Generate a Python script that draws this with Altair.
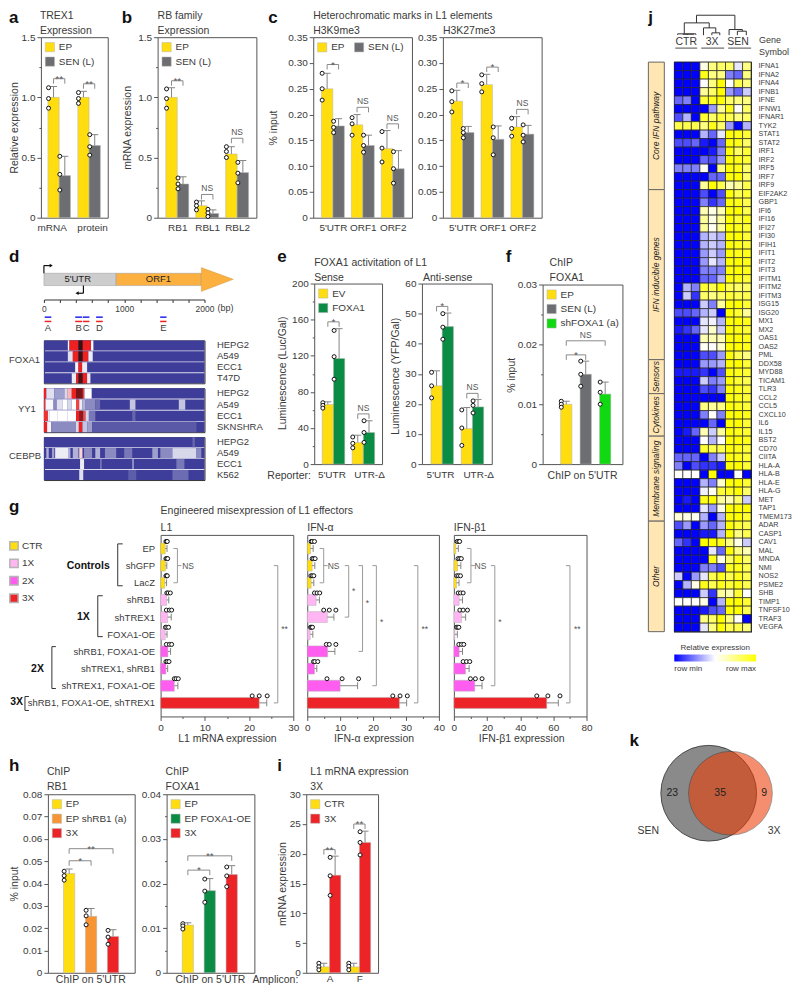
import json
import numpy as np
import pandas as pd
import altair as alt

FONT = "Liberation Sans"
INK = "#3a3a3a"
FRAME = "#555555"
YEL, GRY, GRN, LIME, ORG, RED, PK1, PK2 = "#FFDD0F", "#6D6E71", "#0B8C45", "#11D911", "#F79433", "#EC2427", "#FFB6F2", "#FF5CF0"

# ---------- bar values ----------
a_cats = ["mRNA", "protein"]
a_cat_pos = [-0.25, 1.1]
a_mean = [1.0, 0.35, 1.0, 0.6]
a_err = [0.09, 0.16, 0.05, 0.09]
a_pts = [[1.08, 0.99, 0.91], [0.51, 0.36, 0.23], [1.04, 0.99, 0.95], [0.69, 0.59, 0.52]]
a_sig = [(0, 1, 1.155, "**"), (2, 3, 1.113, "**")]

b_cats = ["RB1", "RBL1", "RBL2"]
b_mean = [1.0, 0.28, 0.1, 0.035, 0.53, 0.375]
b_err = [0.08, 0.06, 0.04, 0.03, 0.06, 0.1]
b_pts = [[1.07, 0.99, 0.91], [0.33, 0.28, 0.24], [0.13, 0.1, 0.065], [0.07, 0.04, 0.01], [0.59, 0.55, 0.5], [0.46, 0.37, 0.29]]
b_sig = [(0, 1, 1.138, "**"), (2, 3, 0.193, "NS"), (4, 5, 0.66, "NS")]

c_cats = ["5'UTR", "ORF1", "ORF2"]
c1_mean = [0.25, 0.178, 0.18, 0.14, 0.134, 0.095]
c1_err = [0.03, 0.014, 0.02, 0.02, 0.035, 0.035]
c1_pts = [[0.28, 0.25, 0.228], [0.187, 0.175, 0.165], [0.194, 0.182, 0.16], [0.16, 0.14, 0.127], [0.167, 0.135, 0.108], [0.128, 0.095, 0.067]]
c1_sig = [(0, 1, 0.297, "*"), (2, 3, 0.214, "NS"), (4, 5, 0.182, "NS")]
c2_mean = [0.226, 0.165, 0.258, 0.152, 0.176, 0.162]
c2_err = [0.021, 0.012, 0.02, 0.026, 0.02, 0.017]
c2_pts = [[0.246, 0.225, 0.205], [0.173, 0.165, 0.155], [0.277, 0.26, 0.244], [0.176, 0.155, 0.122], [0.193, 0.173, 0.158], [0.18, 0.16, 0.147]]
c2_sig = [(0, 1, 0.261, "*"), (2, 3, 0.292, "*"), (4, 5, 0.21, "NS")]

e_cats = ["5'UTR", "UTR-\u0394"]
e_cat_pos = [-0.07, 1.19]
e1_mean = [66, 117, 24, 35]
e1_err = [3, 33, 8, 13]
e1_pts = [[68, 65, 62], [148, 119, 94], [30, 23, 18], [48, 35, 24]]
e1_sig = [(0, 1, 157.6, "*"), (2, 3, 55.6, "NS")]
e2_mean = [26, 45.7, 11.8, 19]
e2_err = [5, 4.5, 7, 2.5]
e2_pts = [[30.5, 26, 22], [50, 45.5, 41.5], [18, 12, 6.2], [21, 19.5, 17]]
e2_sig = [(0, 1, 52.4, "*"), (2, 3, 23.5, "NS")]

f_mean = [0.01, 0.015, 0.0117]
f_err = [0.0005, 0.0022, 0.002]
f_pts = [[0.0105, 0.01, 0.0095], [0.0172, 0.015, 0.013], [0.0137, 0.012, 0.01]]
f_sig = [(0, 1, 0.01825, "*"), (0, 2, 0.0206, "NS")]

h1_mean = [0.0445, 0.0253, 0.0163]
h1_err = [0.002, 0.0035, 0.003]
h1_pts = [[0.0455, 0.0435, 0.0415], [0.028, 0.0255, 0.0215], [0.019, 0.016, 0.0128]]
h1_sig = [(0, 1, 0.0502, "*"), (0, 2, 0.0556, "**")]
h2_mean = [0.0107, 0.0184, 0.022]
h2_err = [0.0005, 0.0027, 0.002]
h2_pts = [[0.011, 0.0105, 0.0098], [0.021, 0.0183, 0.0158], [0.0237, 0.0217, 0.0193]]
h2_sig = [(0, 1, 0.023, "*"), (0, 2, 0.0262, "**")]

i_cats = ["A", "F"]
i_mean = [1, 16.4, 1, 21.9]
i_err = [0.6, 3.2, 0.6, 1.9]
i_pts = [[1.6, 1, 0.5], [19.4, 16.3, 13], [1.6, 1.1, 0.5], [23.7, 21.9, 19.8]]
i_sig = [(0, 1, 20.7, "**"), (2, 3, 25, "**")]

# ---------- panel g ----------
g_rows = ["EP", "shGFP", "LacZ", "shRB1", "shTREX1", "FOXA1-OE", "shRB1, FOXA1-OE", "shTREX1, shRB1", "shTREX1, FOXA1-OE", "shRB1, FOXA1-OE, shTREX1"]
g_groups = ["CTR", "CTR", "CTR", "1X", "1X", "1X", "2X", "2X", "2X", "3X"]
gl_mean = [1.05, 1.1, 0.95, 1.35, 1.6, 1.05, 1.65, 1.2, 3.1, 22.3]
gl_err = [0.4, 0.3, 0.4, 0.5, 0.8, 0.4, 0.6, 0.4, 0.8, 1.7]
gl_pts = [[1.2, 1.4, 1.5], [1.2, 1.4, 1.6], [1.2, 1.4, 1.5], [1.4, 1.7, 2.2], [1.3, 2.0, 2.5], [1.1, 1.4, 1.8], [1.3, 2.0, 2.5], [1.2, 1.5, 1.9], [3.1, 3.5, 4.0], [20.7, 22.3, 24.1]]
ga_mean = [1, 1.5, 1.2, 2.7, 6.1, 0.9, 6.2, 2.2, 10, 28]
ga_err = [0.8, 0.8, 0.8, 1, 2, 0.8, 2.2, 0.7, 5.3, 2.2]
ga_pts = [[1.2, 1.5, 2.2], [1.5, 1.9, 2.4], [1.1, 1.5, 2.0], [2.2, 3.0, 3.8], [5, 6.7, 8.7], [1.0, 1.3, 1.6], [5.8, 6.7, 8.7], [1.9, 2.3, 3.2], [6, 10.6, 15.6], [26, 28.2, 30.4]]
gb_mean = [1.2, 2.2, 1.6, 3.2, 4.6, 0.6, 3.2, 7, 12.6, 56]
gb_err = [1.5, 2, 1.5, 2, 2.5, 1.5, 2, 2.2, 4.4, 7]
gb_pts = [[2, 3, 3.5], [2.5, 3.5, 4.5], [1.8, 2.8, 4], [2.6, 4, 5.6], [3.6, 5.6, 8.2], [1.6, 2.4, 3], [3, 4.6, 6], [5.6, 7.6, 9.6], [10, 13, 17], [50, 56.7, 64]]
gl_sig = [(3.8, 0, 2, "NS", 6.2, 1, True), (26.5, 1, 9, "**", 28, 4.7, False)]
ga_sig = [(5, 0, 2, "NS", 8, 1, True), (12.6, 1, 4, "*", 14.1, 2.5, False), (16.8, 1, 6, "*", 18.3, 3.2, False), (21, 1, 8, "*", 22.6, 4.3, False), (33.6, 1, 9, "**", 35.7, 4.7, False)]
gb_sig = [(10.3, 0, 2, "NS", 16, 1, True), (24.7, 1, 8, "*", 27.8, 4.3, False), (70, 1, 9, "**", 74.4, 4.7, False)]

# ---------- panel d ----------
d_blocks = {
    "FOXA1": {
        "HEPG2": [(298, 318, .5), (318, 430, .76), (430, 484, 1), (484, 587, .76), (587, 616, .5)],
        "A549": [(298, 360, .42), (360, 430, .76), (430, 484, 1), (484, 554, .76), (554, 608, .45)],
        "ECC1": [(389, 430, .48), (430, 476, .76), (476, 538, .45)],
        "T47D": [(347, 401, .45), (401, 430, .76), (430, 484, .98), (484, 538, .76), (538, 579, .45)],
    },
    "YY1": {
        "HEPG2": [(0, 30, .76), (30, 130, .42), (130, 255, .25), (255, 290, .4), (290, 347, .58), (347, 400, .76), (400, 484, .92), (484, 505, .72), (505, 595, .5)],
        "A549": [(0, 20, .74), (20, 120, .48), (120, 160, .2), (160, 230, .42), (230, 290, .5), (290, 345, .4), (345, 400, .5), (400, 440, .72), (440, 480, .45), (480, 520, .3), (520, 640, .2), (640, 700, .12), (1070, 1140, .35), (1680, 1760, .35)],
        "ECC1": [(0, 50, .74), (50, 75, .45), (75, 165, .5), (165, 290, .5), (290, 400, .5), (400, 440, .76), (440, 490, .88), (490, 520, .7), (520, 560, .4), (560, 640, .15), (1100, 1140, .1)],
        "SKNSHRA": [(0, 40, .76), (40, 90, .48), (90, 400, .2), (400, 435, .4), (435, 480, .76), (480, 540, .35), (540, 600, .25), (600, 1900, .07)],
    },
    "CEBPB": {
        "HEPG2": [(1850, 1880, .1)],
        "A549": [(30, 60, .3), (100, 130, .25), (140, 300, .45), (300, 330, .3), (360, 430, .3), (440, 480, .55), (500, 600, .2), (640, 700, .3), (760, 900, .2), (1000, 1100, .15), (1350, 1420, .25), (1450, 1600, .2), (1600, 1900, .4), (1900, 1960, .2)],
        "ECC1": [(450, 500, .45), (700, 720, .15), (1100, 1120, .25), (1650, 1750, .15)],
        "K562": [(440, 490, .42), (1050, 1150, .08), (1600, 1800, .12)],
    },
}
d_markers = [("A", 10, 92), ("B", 390, 476), ("C", 485, 567), ("D", 650, 733), ("E", 1448, 1527)]

# ---------- panel j ----------
genes = """IFNA1 IFNA2 IFNA4 IFNB1 IFNE IFNW1 IFNAR1 TYK2 STAT1 STAT2 IRF1 IRF2 IRF5 IRF7 IRF9 EIF2AK2 GBP1 IFI6 IFI16 IFI27 IFI30 IFIH1 IFIT1 IFIT2 IFIT3 IFITM1 IFITM2 IFITM3 ISG15 ISG20 MX1 MX2 OAS1 OAS2 PML DDX58 MYD88 TICAM1 TLR3 CCL2 CCL5 CXCL10 IL6 IL15 BST2 CD70 CIITA HLA-A HLA-B HLA-E HLA-G MET TAP1 TMEM173 ADAR CASP1 CAV1 MAL MNDA NMI NOS2 PSME2 SHB TIMP1 TNFSF10 TRAF3 VEGFA""".split()
heat = [
    [-1, -1, -1, .1, .5, .6, .6, -.1, .5], [-1, -1, -1, .9, .5, .5, -.5, -.6, .5], [-1, -1, -1, 0, .5, 1, 0, .7, .5],
    [-1, -1, -1, .4, .6, 1, -.4, -.6, -.2], [-.6, -.5, -1, .8, .9, 1, .6, .5, .5], [-1, -1, -1, -1, -.4, .4, .9, 0, .6],
    [-.7, -.3, -1, .8, .6, .8, .7, .5, .6], [.7, .7, .7, .5, .9, .6, -.4, -1, -.3], [-1, -1, -1, -.3, -.6, -.1, 1, .9, .8],
    [-.7, -.7, -.6, -.9, -1, -.6, 1, .9, .6], [-1, -1, -1, -1, -.9, -.5, 1, .6, .8], [-1, -1, -1, -.6, -.7, -.4, 1, .9, .8],
    [-.5, -.5, -.5, .05, -1, .5, 1, .9, .6], [-1, -1, -1, -1, -.6, -.6, 1, 1, .6], [-1, -1, -1, .4, 1, .7, .3, .4, .7],
    [-1, -1, -1, -.7, -1, -.7, 1, .7, .8], [-1, -1, -1, -.5, -.8, -.6, 1, .9, .7], [-1, -1, -1, .3, .1, .3, 1, 1, .7],
    [-1, -1, -1, .4, .1, .4, 1, .8, .9], [-1, -1, -1, .4, .05, .4, 1, .9, .8], [-1, -1, -1, -.3, -.2, -.3, 1, 1, .8],
    [-1, -1, -1, -.3, -.2, -.3, 1, .9, .8], [-1, -1, -1, -.4, -.2, -.4, 1, .9, .9], [-1, -1, -1, -.4, -.1, -.3, 1, 1, .9],
    [-1, -1, -1, -.5, -.5, -.5, 1, 1, .9], [-1, -1, -1, -.6, -.6, -.3, 1, .9, .8], [-1, -.3, -.5, .8, .7, 1, .7, .6, .6],
    [-1, -.2, -.8, .6, .5, .6, .8, .7, .7], [-1, -1, -1, -.2, -.5, .4, 1, 1, .8], [-.7, -.7, -.6, -.3, -.2, -1, 1, .8, .4],
    [-1, -1, -1, -.1, -.05, -.3, 1, 1, .9], [-.9, -.8, -.6, -.1, .2, -.2, 1, .9, .8], [-1, -1, -1, .3, .3, .3, 1, 1, .9],
    [-1, -1, -1, .05, -.02, .2, 1, 1, .9], [-1, -1, -1, -.7, -.7, -.4, 1, .7, .5], [-1, -1, -1, -.4, -.4, -.3, 1, 1, .8],
    [-.9, -.9, -.9, -.8, -1, -.7, 1, .9, .8], [-1, -1, -1, -.2, -.5, -.4, 1, .8, .7], [-1, -1, -1, -.7, -.8, -.5, 1, .9, .8],
    [-1, -1, -1, -1, -1, -1, 1, .9, .8], [-1, -1, -1, .5, .4, .5, 1, .9, .8], [-1, -1, -1, -.5, 0, -.5, 1, 1, .9],
    [-1, -1, -1, -1, -.6, -1, 1, 1, .8], [-1, -.9, -.6, .3, -.2, .4, 1, .9, .8], [-1, -1, -1, 0, -.3, -.02, 1, 1, .9],
    [-1, -1, -1, .8, .7, .7, 1, .9, .8], [-.6, -.6, -.6, -1, -.5, -.2, 1, .9, .8], [-.5, -1, -.7, -.8, -.8, -.9, 1, 1, .8],
    [0, 0, 0, -1, 1, -1, -1, 0, -1], [-1, -1, -1, -.3, -.5, .2, 1, 1, .8], [-1, -1, -1, -.05, .05, .8, .9, 1, .6],
    [-1, -.9, -1, .9, 1, .4, .3, .6, -.2], [-1, -1, -1, -.1, -.4, .1, 1, 1, 1], [.15, .1, .05, -.3, -1, -.3, 1, 1, .8],
    [-.7, -.4, -1, -.4, -.6, -.3, 1, .8, .7], [-1, -1, -1, -.9, -.9, -.3, 1, .5, .7], [-.6, -.8, -1, 1, 1, .9, .5, .1, -.2],
    [-1, -1, -1, -1, -.1, -.6, 1, .5, .3], [-1, -1, -1, -1, .9, .1, .6, .9, .6], [-1, -1, -1, -.5, -.5, -.7, .9, .9, .7],
    [-.2, -1, -.4, -.1, .7, .9, .7, .9, .7], [-1, -.3, .1, .9, .7, .9, .8, .9, .7], [-1, -1, -1, -.2, -.8, .4, .3, .8, 0],
    [0, 0, 0, .1, -1, -.3, 1, 1, .8], [-1, -1, -1, -.9, -.7, -.6, 1, 1, .7], [-1, -1, -1, .5, .6, 1, .5, 0, -1],
    [-1, -1, -1, -.1, .5, 1, .7, .7, .5],
]
strip_labels = ["Core IFN pathway", "IFN inducible genes", "Sensors", "Cytokines", "Membrane signaling", "Other"]
strip_starts = [0, 15, 35, 39, 44, 54]
strip_ends = [15, 35, 39, 44, 54, 67]
dendro = [(2.6, 60, 7.1, 60), (2.6, 60, 2.6, 37), (1.17, 37, 4.09, 37), (1.17, 37, 1.17, 4), (.39, 4, 2.53, 4), (.39, 4, .39, 1),
          (1.5, 4, 1.5, 1), (2.53, 4, 2.53, 1), (1, 3, 2.3, 3), (4.09, 37, 4.09, 22), (3.42, 22, 4.86, 22), (3.42, 22, 3.42, 0), (4.86, 22, 4.86, 7),
          (4.4, 7, 5.33, 7), (4.4, 7, 4.4, 0), (5.33, 7, 5.33, 0), (7.1, 60, 7.1, 17), (6.42, 17, 7.98, 17), (6.42, 17, 6.42, 0),
          (7.98, 17, 7.98, 12), (7.39, 12, 8.44, 12), (7.39, 12, 7.39, 0), (8.44, 12, 8.44, 0)]

# ---------- free text: (text, page x, page y) ----------
letters = [("a", 8, 17), ("b", 121, 17), ("c", 268, 17), ("j", 649, 17), ("d", 8, 256), ("e", 277, 256), ("f", 506, 256),
           ("g", 8, 507), ("h", 8, 767), ("i", 277, 767), ("k", 630, 742)]
titles = [("TREX1", 39, 15), ("Expression", 39, 30), ("RB family", 157, 15), ("Expression", 157, 30),
          ("Heterochromatic marks in L1 elements", 313, 15), ("H3K9me3", 313, 30), ("H3K27me3", 443, 30),
          ("FOXA1 activitation of L1", 314, 262), ("Sense", 314, 277), ("Anti-sense", 423, 277), ("ChIP", 550, 262), ("FOXA1", 550, 277),
          ("Engineered misexpression of L1 effectors", 160, 511), ("L1", 160, 528), ("IFN-\u03b1", 307, 528), ("IFN-\u03b21", 454, 528),
          ("ChIP", 46, 773), ("RB1", 46, 788), ("ChIP", 165, 773), ("FOXA1", 165, 788), ("L1 mRNA expression", 310, 773), ("3X", 310, 788),
          ("Reporter:", 267, 476), ("Amplicon:", 252, 981)]
centered = [("ChIP on 5'UTR", 583, 476), ("L1 mRNA expression", 227, 740), ("IFN-\u03b1 expression", 374, 740), ("IFN-\u03b21 expression", 522, 740),
            ("ChIP on 5'UTR", 90, 981), ("ChIP on 5'UTR", 210, 981), ("SEN", 649, 832), ("3X", 775, 832),
            ("CTR", 687, 41), ("3X", 713, 41), ("SEN", 739, 41)]
rot_titles = [("Relative expression", 14, 127), ("mRNA expression", 127, 127), ("% input", 274, 127), ("Luminescence (Luc/Gal)", 283, 373),
              ("Luminescence (YFP/Gal)", 396, 376), ("% input", 512, 375), ("% input", 14, 885), ("mRNA expression", 283, 885)]
small_left = [("Gene", 760, 39), ("Symbol", 760, 51), ("(bp)", 217, 308)]
d_left = [("FOXA1", 8, 360), ("YY1", 17, 409), ("CEBPB", 8, 456)]
bold_right = [("Controls", 109, 566), ("1X", 89, 617), ("2X", 43, 669), ("3X", 22, 703)]
underlines = [(676, 698, 47), (702, 725, 47), (729, 752, 47)]
# group brackets of panel g: left x, tip x, top y, bottom y
g_brackets = [(117, 122, 544, 586), (97, 102, 596, 637), (51, 55, 647, 689), (24, 28, 697, 711)]

venn_x = [59.5, 81.3]
venn_y = [50, 50]
venn_r = [48, 42]
venn_fill = ["#8A8A8A", "#ED3A01"]
venn_alpha = [1, 0.57]
venn_counts = ["23", "35", "9"]
venn_count_x = [23, 71, 115]

# ---------- helpers ----------
panels = {}


def axis_y(ymax, major, minor, fmt):
    ticks = [round(float(v), 6) for v in np.arange(0, ymax + minor / 2, minor)]
    is_major = f"abs(datum.value/{major}-round(datum.value/{major}))<0.000001"
    return alt.Axis(values=ticks, title=None, grid=False, domain=False, labelOverlap=False, labelFlush=False,
                    labelExpr=f"{is_major} ? (datum.value==0 ? '0' : format(datum.value,'{fmt}')) : ''",
                    tickSize={"condition": {"test": is_major, "value": 4}, "value": 2},
                    tickColor=FRAME, labelFontSize=10, labelColor=INK, labelFont=FONT, labelPadding=2)


def vbars(name, x, y, w, h, ymax, major, minor, fmt, first, step, bar_w, groups, colors, mean, err, pts, sig,
          cats=None, cat_pos=None, single=False, legend=(4, 5), columns=1, label_pad=5):
    n = len(mean)
    if single:
        pos = list(range(n)); grp = groups
    else:
        pos = [i // 2 + (i % 2 - 0.5) * bar_w / step for i in range(n)]
        grp = [groups[i % 2] for i in range(n)]
    lo = -(first - x) / step
    xs = alt.Scale(domain=[lo, lo + w / step], nice=False, zero=False)
    ys = alt.Scale(domain=[0, ymax], nice=False, zero=False)
    hw = bar_w / step / 2
    bars = pd.DataFrame({"x": [p - hw for p in pos], "x2": [p + hw for p in pos], "y0": 0, "m": mean, "g": grp})
    vals = (cat_pos or list(range(len(cats)))) if cats else []
    xax = alt.Axis(values=vals, title=None, grid=False, domain=False, tickSize=0, labelAngle=0,
                   labelExpr=f"{json.dumps(cats)}[indexof({json.dumps(vals)},datum.value)]" if cats else "''", labelOverlap=False, labelFlush=False,
                   labelFontSize=10, labelColor=INK, labelFont=FONT, labelPadding=label_pad)
    yax = axis_y(ymax, major, minor, fmt)
    leg = None
    if legend:
        leg = alt.Legend(orient="none", legendX=legend[0], legendY=legend[1], title=None, symbolType="square", symbolSize=85, columns=columns,
                         columnPadding=8, rowPadding=2.5, labelFontSize=10, labelColor=INK, labelFont=FONT, labelOffset=4, symbolStrokeWidth=0.5)
    L = [alt.Chart(bars).mark_rect(stroke="#b5b5b5", strokeWidth=0.5).encode(
        x=alt.X("x:Q", scale=xs, axis=xax), x2="x2:Q",
        y=alt.Y("y0:Q", scale=ys, axis=yax), y2="m:Q",
        color=alt.Color("g:N", scale=alt.Scale(domain=groups, range=colors), legend=leg))]
    capw = 3.5 / step
    segs = []
    for p, m, e in zip(pos, mean, err):
        segs.append((p, p, m, m + e))
        segs.append((p - capw, p + capw, m + e, m + e))
    seg_df = pd.DataFrame(segs, columns=["x", "x2", "y", "y2"])
    L.append(alt.Chart(seg_df).mark_rule(color="#858585", strokeWidth=1).encode(
        x=alt.X("x:Q", scale=xs, axis=xax), x2="x2:Q", y=alt.Y("y:Q", scale=ys, axis=yax), y2="y2:Q"))
    pr = pd.DataFrame([(p, v) for p, vals_ in zip(pos, pts) for v in vals_], columns=["x", "v"])
    L.append(alt.Chart(pr).mark_point(filled=True, fill="white", stroke="#111111", strokeWidth=1, size=16, opacity=1, xOffset=-5).encode(
        x=alt.X("x:Q", scale=xs, axis=xax), y=alt.Y("v:Q", scale=ys, axis=yax)))
    drop = 5 * ymax / h
    br, labs = [], []
    for b1, b2, top, lab in sig:
        x1, x2 = pos[b1], pos[b2]
        br += [(x1, x2, top, top), (x1, x1, top - drop, top), (x2, x2, top - drop, top)]
        labs.append(((x1 + x2) / 2, top, lab))
    L.append(alt.Chart(pd.DataFrame(br, columns=["x", "x2", "y", "y2"])).mark_rule(color="#8a8a8a", strokeWidth=1).encode(
        x=alt.X("x:Q", scale=xs, axis=xax), x2="x2:Q", y=alt.Y("y:Q", scale=ys, axis=yax), y2="y2:Q"))
    ld = pd.DataFrame(labs, columns=["x", "y", "t"])
    for flt, size, dy in ((ld[ld.t == "NS"], 8.5, -3), (ld[ld.t != "NS"], 10, 3)):
        if len(flt):
            L.append(alt.Chart(flt).mark_text(fontSize=size, dy=dy, baseline="alphabetic", color="#555555", font=FONT).encode(
                x=alt.X("x:Q", scale=xs, axis=xax), y=alt.Y("y:Q", scale=ys, axis=yax), text="t:N"))
    panels[name] = (x, y, w, h, alt.layer(*L).properties(width=w, height=h, view=alt.ViewBackground(stroke=FRAME, strokeWidth=1)))


G_COL = [YEL, PK1, PK2, RED]
G_DOM = ["CTR", "1X", "2X", "3X"]


def hbars(name, x, y, w, h, xmax, major, minor, mean, err, pts, sig, labels=False, legend=False):
    xs = alt.Scale(domain=[0, xmax], nice=False, zero=False)
    ys = alt.Scale(domain=[-0.79, 9.79], nice=False, zero=False, reverse=True)
    thick = 0.32
    ticks = [float(v) for v in np.arange(0, xmax + minor / 2, minor)]
    is_major = f"abs(datum.value/{major}-round(datum.value/{major}))<0.000001"
    xax = alt.Axis(values=ticks, title=None, grid=False, domain=False, labelOverlap=False, labelFlush=False,
                   labelExpr=f"{is_major} ? datum.label : ''", labelAngle=0,
                   tickSize={"condition": {"test": is_major, "value": 4}, "value": 2},
                   tickColor=FRAME, labelFontSize=10, labelColor=INK, labelFont=FONT, labelPadding=2)
    yax = alt.Axis(values=list(range(10)), title=None, grid=False, domain=False, tickSize=0, labelOverlap=False, labelFlush=False,
                   labelExpr=(json.dumps(g_rows) + "[datum.value]") if labels else "''",
                   labelFontSize=9.5, labelColor=INK, labelFont=FONT, labelPadding=6)
    bars = pd.DataFrame({"x0": 0, "m": mean, "y": [i - thick for i in range(10)], "y2": [i + thick for i in range(10)], "g": g_groups})
    leg = alt.Legend(orient="none", legendX=-152, legendY=6, title=None, symbolType="square", symbolSize=70, rowPadding=1.5,
                     labelFontSize=10, labelColor=INK, labelFont=FONT, labelOffset=3) if legend else None
    L = [alt.Chart(bars).mark_rect(stroke="#b5b5b5", strokeWidth=0.5).encode(
        x=alt.X("x0:Q", scale=xs, axis=xax), x2="m:Q", y=alt.Y("y:Q", scale=ys, axis=yax), y2="y2:Q",
        color=alt.Color("g:N", scale=alt.Scale(domain=G_DOM, range=G_COL), legend=leg))]
    segs = []
    for i, (m, e) in enumerate(zip(mean, err)):
        segs.append((m, m + e, i, i))
        segs.append((m + e, m + e, i - 0.2, i + 0.2))
    rule = lambda df, col: alt.Chart(df).mark_rule(color=col, strokeWidth=1).encode(
        x=alt.X("x:Q", scale=xs, axis=xax), x2="x2:Q", y=alt.Y("y:Q", scale=ys, axis=yax), y2="y2:Q")
    L.append(rule(pd.DataFrame(segs, columns=["x", "x2", "y", "y2"]), "#858585"))
    pr = pd.DataFrame([(i, v) for i, vals in enumerate(pts) for v in vals], columns=["y", "v"])
    L.append(alt.Chart(pr).mark_point(filled=True, fill="white", stroke="#111111", strokeWidth=1, size=16, opacity=1, yOffset=-7).encode(
        x=alt.X("v:Q", scale=xs, axis=xax), y=alt.Y("y:Q", scale=ys, axis=yax)))
    stub = 4 * xmax / w
    br, labs = [], []
    for bx, r1, r2, lab, lx, ly, mid in sig:
        br += [(bx, bx, r1, r2), (bx - stub, bx, r1, r1), (bx - stub, bx, r2, r2)]
        if mid:
            br.append((bx, bx + stub, (r1 + r2) / 2, (r1 + r2) / 2))
        labs.append((lx, ly, lab))
    L.append(rule(pd.DataFrame(br, columns=["x", "x2", "y", "y2"]), "#9a9a9a"))
    ld = pd.DataFrame(labs, columns=["x", "y", "t"])
    L.append(alt.Chart(ld).mark_text(fontSize=8.5, color="#555555", font=FONT, align="center", baseline="middle").encode(
        x=alt.X("x:Q", scale=xs, axis=xax), y=alt.Y("y:Q", scale=ys, axis=yax), text="t:N"))
    panels[name] = (x, y, w, h, alt.layer(*L).properties(width=w, height=h, view=alt.ViewBackground(stroke=FRAME, strokeWidth=1)))


def dheat(name, x, y, w, h, block):
    order = list(block)
    rows = []
    for rn in order:
        rows.append((rn, 0, 2000, 0))
        rows += [(rn, a, b, v) for a, b, v in block[rn]]
    df = pd.DataFrame(rows, columns=["r", "a", "b", "v"])
    yax = alt.Axis(orient="right", title=None, domain=False, ticks=False, grid=False, labelPadding=12, labelFontSize=9.5,
                   labelColor=INK, labelFont=FONT, labelOverlap=False)
    ch = alt.Chart(df).mark_rect().encode(
        x=alt.X("a:Q", scale=alt.Scale(domain=[0, 2000], nice=False, zero=False), axis=None), x2="b:Q",
        y=alt.Y("r:N", sort=order, axis=yax, scale=alt.Scale(paddingInner=0.08, paddingOuter=0)),
        color=alt.Color("v:Q", legend=None, scale=alt.Scale(domain=[0, .5, .76, 1], range=["#3E3E9A", "#FFFFFF", "#EE2020", "#3A1010"], interpolate="rgb")))
    panels[name] = (x, y, w, h, ch.properties(width=w, height=h, view=alt.ViewBackground(stroke="#333333", strokeWidth=1, fill="#DDDDEE")))


EPSEN = ["EP", "SEN (L)"]
vbars("a", 40, 36, 67, 181, 1.5, 0.5, 0.25, ".1f", 58.3, 30, 11.3, EPSEN, [YEL, GRY], a_mean, a_err, a_pts, a_sig, cats=a_cats, cat_pos=a_cat_pos)
vbars("b", 157, 36, 99, 181, 1.5, 0.5, 0.25, ".1f", 176.7, 30, 11.5, EPSEN, [YEL, GRY], b_mean, b_err, b_pts, b_sig, cats=b_cats)
vbars("c1", 313, 36, 99, 181, 0.35, 0.05, 0.05, ".2f", 332.7, 30, 11.5, EPSEN, [YEL, GRY], c1_mean, c1_err, c1_pts, c1_sig, cats=c_cats, columns=2)
vbars("c2", 443, 36, 99, 181, 0.35, 0.05, 0.05, ".2f", 462.7, 30, 11.5, EPSEN, [YEL, GRY], c2_mean, c2_err, c2_pts, c2_sig, cats=c_cats, legend=None)
EVF = ["EV", "FOXA1"]
vbars("e1", 314, 283, 68, 181, 200, 40, 20, ".0f", 333.3, 30, 11.3, EVF, [YEL, GRN], e1_mean, e1_err, e1_pts, e1_sig, cats=e_cats, cat_pos=e_cat_pos)
vbars("e2", 422, 283, 70, 181, 60, 10, 10, ".0f", 442.3, 30.3, 11.3, EVF, [YEL, GRN], e2_mean, e2_err, e2_pts, e2_sig, cats=e_cats, cat_pos=e_cat_pos, legend=None)
vbars("f", 543, 284, 80, 180, 0.03, 0.01, 0.005, ".2f", 566.7, 19.5, 11.3, ["EP", "SEN (L)", "shFOXA1 (a)"], [YEL, GRY, LIME], f_mean, f_err, f_pts, f_sig, single=True)
vbars("h1", 47, 795, 87, 179, 0.08, 0.01, 0.01, ".2f", 68.3, 22, 11.3, ["EP", "EP shRB1 (a)", "3X"], [YEL, ORG, RED], h1_mean, h1_err, h1_pts, h1_sig, single=True)
vbars("h2", 166, 795, 88, 179, 0.04, 0.01, 0.005, ".2f", 187.3, 22, 11.3, ["EP", "EP FOXA1-OE", "3X"], [YEL, GRN, RED], h2_mean, h2_err, h2_pts, h2_sig, single=True)
vbars("i", 306, 795, 72, 179, 30, 5, 5, ".0f", 329.3, 30, 11.3, ["CTR", "3X"], [YEL, RED], i_mean, i_err, i_pts, i_sig, cats=i_cats, label_pad=1)
hbars("gl", 160, 535, 133, 182, 30, 10, 5, gl_mean, gl_err, gl_pts, gl_sig, labels=True, legend=True)
hbars("ga", 307, 535, 132, 182, 40, 10, 5, ga_mean, ga_err, ga_pts, ga_sig)
hbars("gb", 454, 535, 133, 182, 80, 20, 10, gb_mean, gb_err, gb_pts, gb_sig)
dheat("dh1", 43, 340, 161, 43, d_blocks["FOXA1"])
dheat("dh2", 43, 388, 161, 44, d_blocks["YY1"])
dheat("dh3", 43, 437, 161, 43, d_blocks["CEBPB"])

# schematic of panel d: y is height above the ruler
sx = alt.Scale(domain=[0, 2000], nice=False, zero=False)
sy = alt.Scale(domain=[0, 37], nice=False, zero=False)
sxax = alt.Axis(values=list(range(0, 2001, 200)), title=None, grid=False, tickSize=3, domainColor="#333333", tickColor="#333333", labelAngle=0,
                labelExpr="datum.value%1000==0 ? datum.value : ''", labelOverlap=False, labelFlush=False, labelFontSize=8.5, labelColor=INK, labelFont=FONT, labelPadding=2)
X = lambda f: alt.X(f, type="quantitative", scale=sx, axis=sxax)
Y = lambda f: alt.Y(f, type="quantitative", scale=sy, axis=None)
gene_rects = pd.DataFrame({"x": [0, 900], "x2": [900, 1960], "y": [14, 14], "y2": [26.3, 26.3], "c": ["#CDCDCD", "#FBB040"]})
head = pd.DataFrame({"x": [1960, 2360], "y": [8, 20.2], "y2": [32, 20.2]})
tss = pd.DataFrame({"x": [0, 0, 492, 492], "x2": [0, 91, 492, 413], "y": [26.3, 34, 14, 6.3], "y2": [34, 34, 6.3, 6.3]})
tips = pd.DataFrame({"x": [91, 413], "y": [34, 6.3], "s": ["triangle-right", "triangle-left"]})
gene_text = pd.DataFrame({"x": [421, 1427], "y": [20.2, 20.2], "t": ["5'UTR", "ORF1"]})
mk = pd.DataFrame([(a, b, lvl, col) for _, a, b in d_markers for lvl, col in ((-17.7, "#2222EE"), (-22, "#EE2222"))], columns=["x", "x2", "y", "c"])
mk_t = pd.DataFrame({"x": [(a + b) / 2 for _, a, b in d_markers], "y": -29, "t": [m[0] for m in d_markers]})
schem = alt.layer(
    alt.Chart(gene_rects).mark_rect(stroke="#999999", strokeWidth=0.5).encode(x=X("x"), x2="x2:Q", y=Y("y"), y2="y2:Q", color=alt.Color("c:N", scale=None)),
    alt.Chart(head).mark_area(color="#FBB040", stroke="#B08030", strokeWidth=0.3).encode(x=X("x"), y=Y("y"), y2="y2:Q"),
    alt.Chart(tss).mark_rule(color="#111111", strokeWidth=1.2).encode(x=X("x"), x2="x2:Q", y=Y("y"), y2="y2:Q"),
    alt.Chart(tips).mark_point(filled=True, size=14, color="#111111", opacity=1).encode(x=X("x"), y=Y("y"), shape=alt.Shape("s:N", scale=None)),
    alt.Chart(gene_text).mark_text(fontSize=9.5, color="#222222", font=FONT).encode(x=X("x"), y=Y("y"), text="t:N"),
    alt.Chart(mk).mark_rule(strokeWidth=1.5).encode(x=X("x"), x2="x2:Q", y=Y("y"), color=alt.Color("c:N", scale=None)),
    alt.Chart(mk_t).mark_text(fontSize=9.5, color=INK, font=FONT).encode(x=X("x"), y=Y("y"), text="t:N"),
).properties(width=161, height=37)
panels["ds"] = (43, 262, 161, 37, schem)

# heatmap of panel j
hdf = pd.DataFrame([(g, c, v) for g, row in zip(genes, heat) for c, v in enumerate(row)], columns=["g", "c", "v"])
heat_leg = alt.Legend(orient="none", legendX=0, legendY=583, direction="horizontal", title="Relative expression", gradientLength=82, gradientThickness=7,
                      values=[-1, 1], labelExpr="datum.value<0 ? 'row min' : 'row max'", labelFontSize=8, labelColor=INK, labelFont=FONT,
                      titleFontSize=8, titleFontWeight="normal", titleColor=INK, titleFont=FONT, titleAnchor="middle", titlePadding=3, labelOffset=3)
hchart = alt.Chart(hdf).mark_rect(stroke="#222222", strokeWidth=0.7).encode(
    x=alt.X("c:O", axis=None, scale=alt.Scale(paddingInner=0, paddingOuter=0)),
    y=alt.Y("g:N", sort=genes, scale=alt.Scale(paddingInner=0, paddingOuter=0),
            axis=alt.Axis(orient="right", title=None, domain=False, ticks=False, grid=False, labelPadding=7, labelFontSize=7.2, labelColor=INK, labelFont=FONT, labelOverlap=False)),
    color=alt.Color("v:Q", scale=alt.Scale(domain=[-1, 0, 1], range=["#0000FF", "#FFFFFF", "#FFFF00"], interpolate="rgb"), legend=heat_leg),
).properties(width=77, height=571, view=alt.ViewBackground(stroke="#222222", strokeWidth=1.2))
panels["heat"] = (675, 61, 77, 571, hchart)

stdf = pd.DataFrame({"a": strip_starts, "b": strip_ends, "t": strip_labels})
stdf["m"] = (stdf.a + stdf.b) / 2
sy2 = alt.Scale(domain=[0, 67], nice=False, zero=False, reverse=True)
strip = alt.layer(
    alt.Chart(stdf).mark_rect(fill="#FFE6B3", stroke="#666666", strokeWidth=1).encode(
        x=alt.value(0), x2=alt.value(16), y=alt.Y("a:Q", scale=sy2, axis=None), y2="b:Q"),
    alt.Chart(stdf).mark_text(angle=270, fontSize=8.5, fontStyle="italic", color="#222222", font=FONT).encode(
        x=alt.value(8), y=alt.Y("m:Q", scale=sy2, axis=None), text="t:N"),
).properties(width=16, height=571)
panels["strip"] = (649, 61, 16, 571, strip)

ddf = pd.DataFrame(dendro, columns=["x", "y", "x2", "y2"])
panels["jd"] = (675, 14, 77, 20, alt.Chart(ddf).mark_rule(color="#333333", strokeWidth=1).encode(
    x=alt.X("x:Q", scale=alt.Scale(domain=[0, 9], nice=False, zero=False), axis=None), x2="x2:Q",
    y=alt.Y("y:Q", scale=alt.Scale(domain=[0, 60], nice=False, zero=False), axis=None), y2="y2:Q").properties(width=77, height=20))

vdf = pd.DataFrame({"x": venn_x, "y": venn_y, "s": [(2 * r) ** 2 for r in venn_r], "c": venn_fill, "o": venn_alpha})
vtxt = pd.DataFrame({"x": venn_count_x, "y": 50, "t": venn_counts})
vs = alt.Scale(domain=[0, 100], nice=False, zero=False)
panels["k"] = (650, 744, 100, 100, alt.layer(
    alt.Chart(vdf).mark_point(filled=True, stroke="#333333", strokeWidth=0.8).encode(
        x=alt.X("x:Q", scale=vs, axis=None), y=alt.Y("y:Q", scale=vs, axis=None),
        size=alt.Size("s:Q", scale=None), color=alt.Color("c:N", scale=None), opacity=alt.Opacity("o:Q", scale=None)),
    alt.Chart(vtxt).mark_text(fontSize=10.5, color="#222222", font=FONT).encode(
        x=alt.X("x:Q", scale=vs, axis=None), y=alt.Y("y:Q", scale=vs, axis=None), text="t:N"),
).properties(width=100, height=100))


# ---------- overlay of free text ----------
def txt(rows, **kw):
    df = pd.DataFrame(rows, columns=["t", "x", "y"])
    df["x"] -= 8
    df["y"] -= 8
    return alt.Chart(df).mark_text(font=FONT, baseline="middle", **kw).encode(
        x=alt.X("x:Q", scale=None, axis=None), y=alt.Y("y:Q", scale=None, axis=None), text="t:N")


def pix_rules(rows, **kw):
    df = pd.DataFrame(rows, columns=["x", "x2", "y", "y2"]) - 8
    return alt.Chart(df).mark_rule(**kw).encode(
        x=alt.X("x:Q", scale=None, axis=None), x2="x2:Q", y=alt.Y("y:Q", scale=None, axis=None), y2="y2:Q")


gb_segs = []
for lx, tip, t, b in g_brackets:
    gb_segs += [(lx, lx, t, b), (lx, tip, t, t), (lx, tip, b, b)]
overlay = alt.layer(
    txt(letters, fontSize=17, fontWeight="bold", align="left", color="#111111"),
    txt(titles, fontSize=10.5, align="left", color=INK),
    txt(centered, fontSize=10.5, align="center", color=INK),
    txt(rot_titles, fontSize=10.5, align="center", angle=270, color=INK),
    txt(small_left, fontSize=9, align="left", color=INK),
    txt(d_left, fontSize=9.5, align="left", color=INK),
    txt(bold_right, fontSize=10.5, fontWeight="bold", align="right", color="#111111"),
    pix_rules([(a, b, y, y) for a, b, y in underlines], color="#888888", strokeWidth=1.5),
    pix_rules(gb_segs, color="#333333", strokeWidth=1),
).properties(width=1, height=1)

# ---------- page layout: rows stacked with fillers, panels in a row spaced with fillers ----------
filler_data = pd.DataFrame({"f": [0]})


def filler(w, h):
    return alt.Chart(filler_data).mark_point(opacity=0, size=1).encode(x=alt.value(0), y=alt.value(0)).properties(width=w, height=h)


layout = [
    ["jd"], ["a", "b", "c1", "c2"], ["strip", "heat"], ["ds"], ["e1", "e2"], ["f"], ["dh1"], ["dh2"], ["dh3"],
    ["gl", "ga", "gb"], ["k"], ["h1", "h2", "i"],
]
cells = [overlay]
cur_y = 1
for names in layout:
    top = panels[names[0]][1] - 8
    hgt = max(1, top - cur_y)
    cells.append(filler(1, hgt))
    cur_y += hgt
    row = []
    cur_x = 0
    for nm in names:
        px, py, pw, ph, ch = panels[nm]
        row.append(filler(max(1, px - 8 - cur_x), 1))
        row.append(ch)
        cur_x = px - 8 + pw
    cells.append(alt.hconcat(*row, spacing=0, bounds="flush").resolve_scale(color="independent"))

chart = alt.vconcat(*cells, spacing=0, bounds="flush").resolve_scale(color="independent").properties(
    padding=0, background="white"
).configure_view(stroke=None).configure_axis(labelFont=FONT, titleFont=FONT).configure_legend(labelFont=FONT)

chart.save("out.html", embed_options={"renderer": "svg", "actions": False})
